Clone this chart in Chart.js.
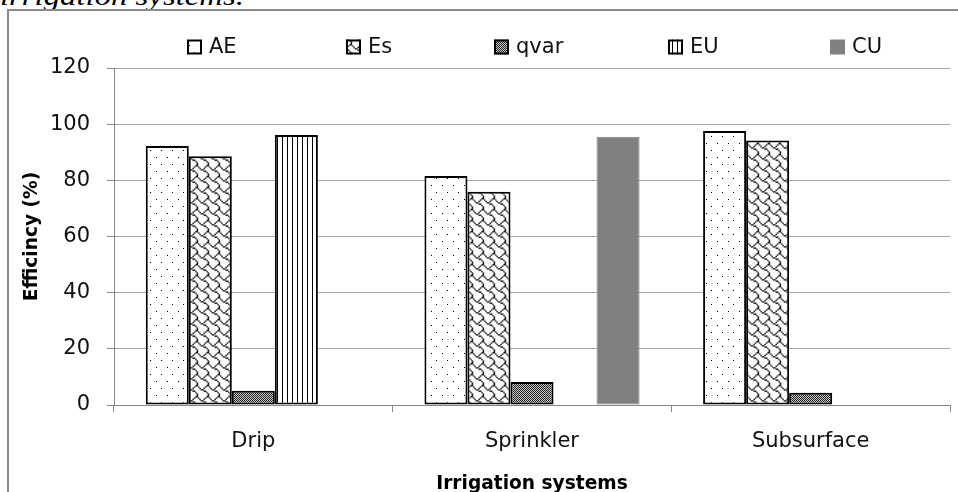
<!DOCTYPE html>
<html><head><meta charset="utf-8">
<script src="https://cdn.jsdelivr.net/npm/chart.js@4.4.0/dist/chart.umd.min.js"></script>
<style>
html,body{margin:0;padding:0;background:#fff;width:958px;height:492px;overflow:hidden;position:relative}
#doc{position:absolute;left:0;top:-18px;font:italic 28px/1 "Liberation Serif";color:#000;white-space:nowrap;transform:scaleX(1.17);transform-origin:0 0}
#frame{position:absolute;left:7px;top:9px;width:960px;height:500px;border-left:2px solid #8a8a8a;border-top:2px solid #8a8a8a;box-sizing:border-box}
#c{position:absolute;left:0;top:0}
</style></head><body>
<div id="doc">irrigation systems.</div>
<div id="frame"></div>
<canvas id="c" width="958" height="492"></canvas>
<script>
const categories = ['Drip', 'Sprinkler', 'Subsurface'];
const seriesNames = ['AE', 'Es', 'qvar', 'EU', 'CU'];
const AE   = [92.2, 81.5, 97.6];
const Es   = [88.6, 75.9, 94.2];
const qvar = [5.1, 8.2, 4.4];
const EU   = [96.1, null, null];
const CU   = [null, 95.5, null];
const yTicks = [0, 20, 40, 60, 80, 100, 120];
const xTitle = 'Irrigation systems';
const yTitle = 'Efficincy (%)';

const FONT = '"DejaVu Sans", sans-serif';
const canvas = document.getElementById('c');
const ctx = canvas.getContext('2d');

// build a repeating pattern from an 8x8 hatch bitmap, scaled smoothly to `size`
function bitmapPattern(rows, size, fg, bg) {
  const base = document.createElement('canvas');
  base.width = 24; base.height = 24;
  const b = base.getContext('2d');
  b.fillStyle = bg; b.fillRect(0, 0, 24, 24);
  b.fillStyle = fg;
  for (let ty = 0; ty < 3; ty++) for (let tx = 0; tx < 3; tx++)
    rows.forEach((r, y) => { for (let x = 0; x < 8; x++) if (r & (0x80 >> x)) b.fillRect(tx * 8 + x, ty * 8 + y, 1, 1); });
  const big = document.createElement('canvas');
  big.width = size * 3; big.height = size * 3;
  const g = big.getContext('2d');
  g.imageSmoothingEnabled = true;
  g.drawImage(base, 0, 0, size * 3, size * 3);
  const tile = document.createElement('canvas');
  tile.width = size; tile.height = size;
  tile.getContext('2d').drawImage(big, size, size, size, size, 0, 0, size, size);
  return ctx.createPattern(tile, 'repeat');
}
function makePattern(w, h, draw) {
  const c = document.createElement('canvas');
  c.width = w; c.height = h;
  const x = c.getContext('2d');
  x.fillStyle = '#fff'; x.fillRect(0, 0, w, h);
  draw(x, w, h);
  return ctx.createPattern(c, 'repeat');
}
const dots = makePattern(11, 14, x => {
  x.fillStyle = '#000';
  x.fillRect(2, 3, 1, 1);
  x.fillRect(7, 10, 1, 1);
});
const shingle = bitmapPattern([0x03, 0x84, 0x48, 0x30, 0x0c, 0x02, 0x01, 0x01], 11, '#000', '#fff');
const checker = makePattern(2, 2, x => {
  x.fillStyle = '#c8c8c8'; x.fillRect(0, 0, 2, 2);
  x.fillStyle = '#222'; x.fillRect(0, 0, 1, 1); x.fillRect(1, 1, 1, 1);
});
const vlines = makePattern(5, 5, x => {
  x.fillStyle = '#000'; x.fillRect(2, 0, 1, 5);
});

const fills = [dots, shingle, checker, vlines, '#808080'];
const borders = ['#000', '#000', '#000', '#000', '#808080'];
const borderW = [2, 2, 2, 2, 1];
const values = [AE, Es, qvar, EU, CU];

const legendLayout = { xs: [187, 346, 494, 668, 830], y: 47, box: 15, gap: 7 };

const customLegend = {
  id: 'customLegend',
  afterDraw(chart) {
    const c = chart.ctx;
    c.save();
    c.font = '21px ' + FONT;
    c.textBaseline = 'middle';
    seriesNames.forEach((name, i) => {
      const x = legendLayout.xs[i], y = legendLayout.y, b = legendLayout.box;
      c.fillStyle = fills[i];
      c.fillRect(x, y - b / 2, b, b);
      c.strokeStyle = borders[i];
      c.lineWidth = i < 4 ? 2 : 1;
      c.strokeRect(x + 1, y - b / 2 + 1, b - 2, b - 2);
      c.fillStyle = '#111';
      c.fillText(name, x + b + legendLayout.gap, y + 1);
    });
    c.restore();
  }
};

new Chart(canvas, {
  type: 'bar',
  data: {
    labels: categories,
    datasets: seriesNames.map((n, i) => ({
      label: n,
      data: values[i],
      backgroundColor: fills[i],
      borderColor: borders[i],
      borderWidth: borderW[i],
      borderSkipped: false
    }))
  },
  options: {
    responsive: false,
    animation: false,
    layout: { padding: { left: 10, right: 8, top: 68, bottom: 0 } },
    datasets: { bar: { categoryPercentage: 0.772, barPercentage: 1 } },
    plugins: { legend: { display: false }, tooltip: { enabled: false } },
    scales: {
      x: {
        grid: { drawOnChartArea: false, drawTicks: true, tickLength: 7, color: '#868686', offset: true },
        border: { color: '#868686' },
        ticks: { font: { family: FONT, size: 21 }, color: '#111', padding: 17 },
        title: { display: true, text: xTitle, color: '#000', font: { family: FONT, size: 18.6, weight: 'bold' }, padding: { top: 0, bottom: -3 } },
        afterFit(s) { s.height = 87; }
      },
      y: {
        min: 0, max: 120,
        afterBuildTicks(s) { s.ticks = yTicks.map(v => ({ value: v })); },
        grid: { color: '#a6a6a6', tickColor: '#868686', tickLength: 7 },
        border: { color: '#868686' },
        ticks: { font: { family: FONT, size: 21 }, color: '#111', padding: 17 },
        title: { display: true, text: yTitle, color: '#000', font: { family: FONT, size: 18.6, weight: 'bold' }, padding: { top: 11, bottom: 0 } },
        afterFit(s) { s.width = 104; }
      }
    }
  },
  plugins: [customLegend]
});
</script>
</body></html>
